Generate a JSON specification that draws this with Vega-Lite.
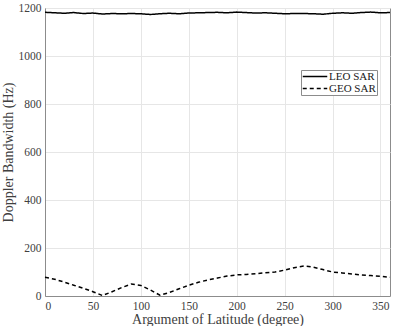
{
  "$schema": "https://vega.github.io/schema/vega-lite/v6.json",
  "width": 345,
  "height": 288,
  "autosize": "none",
  "padding": {"left": 45, "top": 8, "right": 3, "bottom": 30},
  "background": "white",
  "config": {
    "font": "Liberation Serif",
    "view": {"stroke": "#8c8c8c", "strokeWidth": 1},
    "axis": {
      "labelFont": "Liberation Serif",
      "titleFont": "Liberation Serif",
      "labelFontSize": 11.5,
      "titleFontSize": 14,
      "titleFontWeight": "normal",
      "labelColor": "#404040",
      "titleColor": "#404040",
      "gridColor": "#e6e6e6",
      "domainColor": "#8c8c8c",
      "tickColor": "#8c8c8c",
      "tickSize": 0,
      "labelPadding": 4
    },
    "legend": {
      "labelFont": "Liberation Serif",
      "labelFontSize": 11,
      "labelColor": "#202020"
    }
  },
  "data": {
    "values": [
      {"lat": 0, "bw": 1182, "series": "LEO SAR"},
      {"lat": 10, "bw": 1180, "series": "LEO SAR"},
      {"lat": 20, "bw": 1178, "series": "LEO SAR"},
      {"lat": 30, "bw": 1181, "series": "LEO SAR"},
      {"lat": 40, "bw": 1177, "series": "LEO SAR"},
      {"lat": 50, "bw": 1179, "series": "LEO SAR"},
      {"lat": 60, "bw": 1175, "series": "LEO SAR"},
      {"lat": 70, "bw": 1177, "series": "LEO SAR"},
      {"lat": 80, "bw": 1176, "series": "LEO SAR"},
      {"lat": 90, "bw": 1177, "series": "LEO SAR"},
      {"lat": 100, "bw": 1176, "series": "LEO SAR"},
      {"lat": 110, "bw": 1173, "series": "LEO SAR"},
      {"lat": 120, "bw": 1176, "series": "LEO SAR"},
      {"lat": 130, "bw": 1178, "series": "LEO SAR"},
      {"lat": 140, "bw": 1176, "series": "LEO SAR"},
      {"lat": 150, "bw": 1179, "series": "LEO SAR"},
      {"lat": 160, "bw": 1180, "series": "LEO SAR"},
      {"lat": 170, "bw": 1181, "series": "LEO SAR"},
      {"lat": 180, "bw": 1182, "series": "LEO SAR"},
      {"lat": 190, "bw": 1180, "series": "LEO SAR"},
      {"lat": 200, "bw": 1183, "series": "LEO SAR"},
      {"lat": 210, "bw": 1181, "series": "LEO SAR"},
      {"lat": 220, "bw": 1179, "series": "LEO SAR"},
      {"lat": 230, "bw": 1180, "series": "LEO SAR"},
      {"lat": 240, "bw": 1178, "series": "LEO SAR"},
      {"lat": 250, "bw": 1176, "series": "LEO SAR"},
      {"lat": 260, "bw": 1177, "series": "LEO SAR"},
      {"lat": 270, "bw": 1177, "series": "LEO SAR"},
      {"lat": 280, "bw": 1176, "series": "LEO SAR"},
      {"lat": 290, "bw": 1174, "series": "LEO SAR"},
      {"lat": 300, "bw": 1178, "series": "LEO SAR"},
      {"lat": 310, "bw": 1180, "series": "LEO SAR"},
      {"lat": 320, "bw": 1178, "series": "LEO SAR"},
      {"lat": 330, "bw": 1181, "series": "LEO SAR"},
      {"lat": 340, "bw": 1183, "series": "LEO SAR"},
      {"lat": 350, "bw": 1180, "series": "LEO SAR"},
      {"lat": 360, "bw": 1181, "series": "LEO SAR"},
      {"lat": 0, "bw": 78, "series": "GEO SAR"},
      {"lat": 10, "bw": 70, "series": "GEO SAR"},
      {"lat": 20, "bw": 58, "series": "GEO SAR"},
      {"lat": 30, "bw": 45, "series": "GEO SAR"},
      {"lat": 40, "bw": 32, "series": "GEO SAR"},
      {"lat": 50, "bw": 18, "series": "GEO SAR"},
      {"lat": 60, "bw": 2, "series": "GEO SAR"},
      {"lat": 70, "bw": 18, "series": "GEO SAR"},
      {"lat": 80, "bw": 35, "series": "GEO SAR"},
      {"lat": 90, "bw": 50, "series": "GEO SAR"},
      {"lat": 100, "bw": 44, "series": "GEO SAR"},
      {"lat": 110, "bw": 25, "series": "GEO SAR"},
      {"lat": 120, "bw": 3, "series": "GEO SAR"},
      {"lat": 130, "bw": 15, "series": "GEO SAR"},
      {"lat": 140, "bw": 30, "series": "GEO SAR"},
      {"lat": 150, "bw": 45, "series": "GEO SAR"},
      {"lat": 160, "bw": 57, "series": "GEO SAR"},
      {"lat": 170, "bw": 67, "series": "GEO SAR"},
      {"lat": 180, "bw": 75, "series": "GEO SAR"},
      {"lat": 190, "bw": 83, "series": "GEO SAR"},
      {"lat": 200, "bw": 88, "series": "GEO SAR"},
      {"lat": 210, "bw": 90, "series": "GEO SAR"},
      {"lat": 220, "bw": 93, "series": "GEO SAR"},
      {"lat": 230, "bw": 97, "series": "GEO SAR"},
      {"lat": 240, "bw": 100, "series": "GEO SAR"},
      {"lat": 250, "bw": 108, "series": "GEO SAR"},
      {"lat": 260, "bw": 118, "series": "GEO SAR"},
      {"lat": 270, "bw": 125, "series": "GEO SAR"},
      {"lat": 280, "bw": 120, "series": "GEO SAR"},
      {"lat": 290, "bw": 110, "series": "GEO SAR"},
      {"lat": 300, "bw": 100, "series": "GEO SAR"},
      {"lat": 310, "bw": 96, "series": "GEO SAR"},
      {"lat": 320, "bw": 92, "series": "GEO SAR"},
      {"lat": 330, "bw": 88, "series": "GEO SAR"},
      {"lat": 340, "bw": 85, "series": "GEO SAR"},
      {"lat": 350, "bw": 82, "series": "GEO SAR"},
      {"lat": 360, "bw": 78, "series": "GEO SAR"}
    ]
  },
  "mark": {"type": "line", "color": "black", "strokeWidth": 1.5},
  "encoding": {
    "x": {
      "field": "lat", "type": "quantitative",
      "scale": {"domain": [0, 360], "nice": false},
      "axis": {"values": [0, 50, 100, 150, 200, 250, 300, 350], "format": "d", "title": "Argument of Latitude (degree)", "titlePadding": 1}
    },
    "y": {
      "field": "bw", "type": "quantitative",
      "scale": {"domain": [0, 1200], "nice": false},
      "axis": {"values": [0, 200, 400, 600, 800, 1000, 1200], "format": "d", "title": "Doppler Bandwidth (Hz)", "titlePadding": 3}
    },
    "strokeDash": {
      "field": "series", "type": "nominal",
      "scale": {"domain": ["LEO SAR", "GEO SAR"], "range": [[1, 0], [4, 3]]},
      "legend": {
        "title": null,
        "orient": "none",
        "legendX": 256,
        "legendY": 62,
        "symbolType": "stroke",
        "symbolSize": 600,
        "clipHeight": 11,
        "symbolStrokeWidth": 1.5,
        "symbolStrokeColor": "black",
        "fillColor": "white",
        "strokeColor": "#8c8c8c",
        "padding": 1,
        "rowPadding": 0,
        "labelOffset": 1
      }
    }
  }
}
